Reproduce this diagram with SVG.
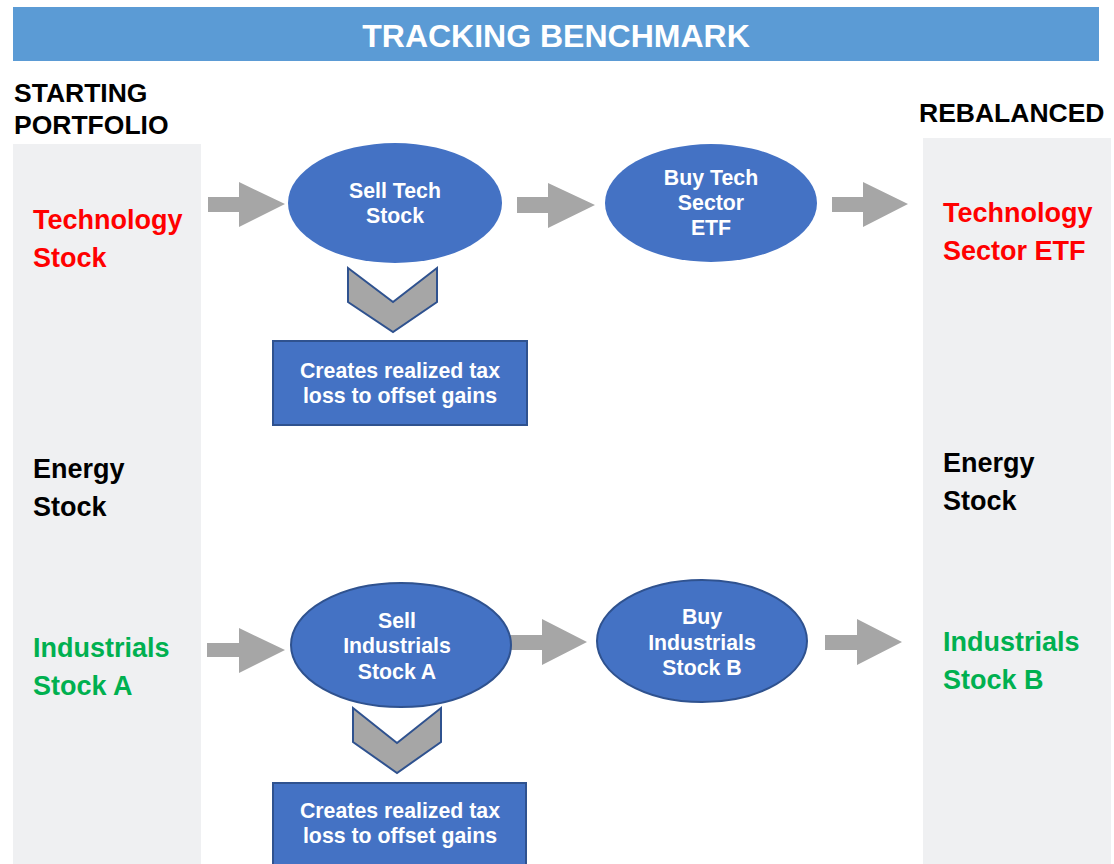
<svg xmlns="http://www.w3.org/2000/svg" width="1114" height="864" viewBox="0 0 1114 864">
<style>
text{font-family:"Liberation Sans",Arial,sans-serif;font-weight:bold}
.title{fill:#fff;font-size:32px}
.hdr{fill:#000;font-size:26.5px}
.lbl{font-size:27px}
.red{fill:#FF0000}
.blk{fill:#000}
.grn{fill:#00B050}
.nt{fill:#fff;font-size:21.3px;text-anchor:middle}
.panel{fill:#EFF0F2}
.ell{fill:#4472C4}
.ells{fill:#4472C4;stroke:#2F528F;stroke-width:2}
.box{fill:#4472C4;stroke:#2F528F;stroke-width:2}
.arr{fill:#A6A6A6}
.chev{fill:#A6A6A6;stroke:#2F528F;stroke-width:2;stroke-linejoin:miter}
</style>
<rect x="0" y="0" width="1114" height="864" fill="#fff"/>
<g id="title">
<rect x="13" y="7" width="1086" height="54" fill="#5B9BD5"/>
<text class="title" x="556" y="47" text-anchor="middle">TRACKING BENCHMARK</text>
</g>
<g id="starting">
<text class="hdr" x="14" y="102">STARTING</text>
<text class="hdr" x="14" y="134">PORTFOLIO</text>
<rect class="panel" x="13" y="144" width="188" height="720"/>
<text class="lbl red" x="33" y="229">Technology</text>
<text class="lbl red" x="33" y="267">Stock</text>
<text class="lbl blk" x="33" y="478">Energy</text>
<text class="lbl blk" x="33" y="516">Stock</text>
<text class="lbl grn" x="33" y="657">Industrials</text>
<text class="lbl grn" x="33" y="695">Stock A</text>
</g>
<g id="rebalanced">
<text class="hdr" x="919" y="122">REBALANCED</text>
<rect class="panel" x="923" y="138" width="188" height="726"/>
<text class="lbl red" x="943" y="222">Technology</text>
<text class="lbl red" x="943" y="260">Sector ETF</text>
<text class="lbl blk" x="943" y="472">Energy</text>
<text class="lbl blk" x="943" y="510">Stock</text>
<text class="lbl grn" x="943" y="651">Industrials</text>
<text class="lbl grn" x="943" y="689">Stock B</text>
</g>
<g id="connectors">
<polygon class="arr" points="208,197 239,197 239,182 285,204 239,227 239,212 208,212"/>
<polygon class="arr" points="517,197 548,197 548,183 595,205 548,228 548,213 517,213"/>
<polygon class="arr" points="832,197 863,197 863,182 908,204 863,227 863,212 832,212"/>
<polygon class="arr" points="207,643 239,643 239,628 285,650 239,673 239,657 207,657"/>
<polygon class="arr" points="510,635 542,635 542,619 587,642 542,665 542,650 510,650"/>
<polygon class="arr" points="825,635 857,635 857,619 902,642 857,665 857,650 825,650"/>
<polygon id="chev1" class="chev" points="348,268 393,302 437,268 437,302 393,332 348,302"/>
<polygon id="chev2" class="chev" points="353,708 397,743 441,708 441,742 397,773 353,742"/>
</g>
<g id="sell-tech">
<ellipse class="ell" cx="395" cy="203" rx="107" ry="60"/>
<text class="nt" x="395" y="198">Sell Tech</text>
<text class="nt" x="395" y="223">Stock</text>
</g>
<g id="buy-tech">
<ellipse class="ell" cx="711" cy="203" rx="106" ry="59"/>
<text class="nt" x="711" y="185">Buy Tech</text>
<text class="nt" x="711" y="210">Sector</text>
<text class="nt" x="711" y="235">ETF</text>
</g>
<g id="tax-loss-1">
<rect class="box" x="273" y="341" width="254" height="84"/>
<text class="nt" x="400" y="378">Creates realized tax</text>
<text class="nt" x="400" y="403">loss to offset gains</text>
</g>
<g id="sell-ind">
<ellipse class="ells" cx="401" cy="645" rx="110" ry="62"/>
<text class="nt" x="397" y="628">Sell</text>
<text class="nt" x="397" y="653">Industrials</text>
<text class="nt" x="397" y="679">Stock A</text>
</g>
<g id="buy-ind">
<ellipse class="ells" cx="702" cy="641" rx="105" ry="61"/>
<text class="nt" x="702" y="624">Buy</text>
<text class="nt" x="702" y="650">Industrials</text>
<text class="nt" x="702" y="675">Stock B</text>
</g>
<g id="tax-loss-2">
<rect class="box" x="273" y="783" width="253" height="90"/>
<text class="nt" x="400" y="818">Creates realized tax</text>
<text class="nt" x="400" y="843">loss to offset gains</text>
</g>
</svg>
